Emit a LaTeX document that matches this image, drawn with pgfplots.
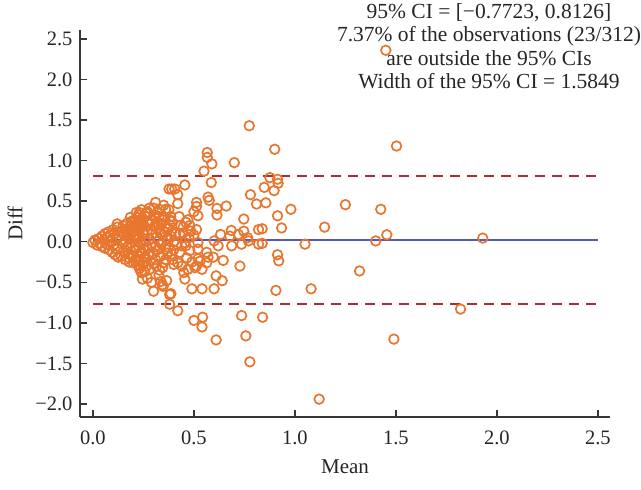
\documentclass[border=0pt]{standalone}
\usepackage{pgfplots}
\pgfplotsset{compat=1.18}
\usepackage{fontspec}
\setmainfont{Liberation Serif}
\definecolor{ptorange}{RGB}{232,118,46}
\definecolor{lineblue}{RGB}{80,90,190}
\definecolor{dashred}{RGB}{168,45,55}
\definecolor{axgray}{RGB}{55,55,55}
\begin{document}
\begin{tikzpicture}
\begin{axis}[
  scale only axis,
  width=530pt, height=387pt,
  xmin=-0.064, xmax=2.56,
  ymin=-2.16, ymax=2.61,
  axis lines=left,
  axis line style={-, axgray, line width=1.5pt},
  tick align=inside,
  major tick length=7pt,
  tick style={axgray, line width=1.4pt},
  xtick={0,0.5,1,1.5,2,2.5},
  xticklabels={0.0,0.5,1.0,1.5,2.0,2.5},
  ytick={-2,-1.5,-1,-0.5,0,0.5,1,1.5,2,2.5},
  yticklabels={−2.0,−1.5,−1.0,−0.5,0.0,0.5,1.0,1.5,2.0,2.5},
  tick label style={font=\fontsize{20.5}{24}\selectfont, text=black!85},
  xticklabel style={yshift=-10pt},
  yticklabel style={xshift=-4pt},
  label style={font=\fontsize{21}{24}\selectfont, text=black!85},
  xlabel={Mean},
  ylabel={Diff},
  xlabel style={yshift=-8pt},
  ylabel style={yshift=6pt},
  clip=false,
]
\addplot[lineblue, line width=1.5pt] coordinates {(0,0.0202) (2.5,0.0202)};
\addplot[dashred, line width=2pt, dash pattern=on 10pt off 7pt] coordinates {(0,0.8126) (2.5,0.8126)};
\addplot[dashred, line width=2pt, dash pattern=on 10pt off 7pt] coordinates {(0,-0.7723) (2.5,-0.7723)};
\addplot[only marks, mark=o, mark size=4.8pt, mark options={ptorange, line width=1.7pt}] table {
x y
0.00 -0.01
0.01 0.02
0.02 -0.04
0.03 0.04
0.035 -0.02
0.045 0.07
0.045 -0.06
0.055 0.02
0.06 0.10
0.06 -0.08
0.07 0.05
0.07 -0.03
0.075 0.12
0.08 -0.10
0.085 0.08
0.09 0.01
0.095 -0.13
0.10 0.15
0.10 -0.05
0.105 0.10
0.11 -0.16
0.115 0.03
0.12 0.18
0.12 -0.09
0.125 -0.19
0.13 0.06
0.135 0.13
0.14 -0.18
0.145 -0.03
0.15 0.20
0.15 -0.12
0.155 0.09
0.16 -0.22
0.16 0.01
0.165 0.16
0.17 -0.07
0.17 0.23
0.175 -0.15
0.18 0.05
0.18 -0.25
0.185 0.19
0.19 -0.02
0.19 0.11
0.195 -0.18
0.20 0.26
0.20 -0.26
0.205 0.03
0.205 -0.10
0.21 0.21
0.21 0.27
0.215 -0.21
0.22 0.21
0.22 0.08
0.225 -0.24
0.225 -0.05
0.23 0.15
0.23 0.33
0.235 -0.30
0.235 0.00
0.24 -0.14
0.24 -0.37
0.245 0.24
0.245 0.29
0.25 -0.08
0.25 0.12
0.255 -0.20
0.225 -0.29
0.23 0.05
0.23 0.36
0.235 -0.02
0.24 0.395
0.24 0.18
0.24 -0.12
0.245 -0.46
0.245 0.27
0.25 -0.28
0.25 0.09
0.255 -0.20
0.26 0.31
0.26 0.00
0.265 0.35
0.265 -0.30
0.27 -0.08
0.27 0.14
0.275 0.22
0.275 -0.16
0.28 0.415
0.28 0.03
0.285 -0.24
0.29 0.26
0.29 -0.04
0.295 0.10
0.30 0.415
0.30 -0.61
0.30 -0.14
0.305 0.19
0.31 0.485
0.31 0.29
0.31 -0.22
0.315 -0.30
0.315 0.06
0.32 -0.10
0.32 0.36
0.325 0.01
0.327 0.31
0.327 -0.41
0.33 -0.35
0.33 0.15
0.335 -0.18
0.337 -0.49
0.34 0.22
0.34 -0.03
0.343 -0.53
0.345 0.08
0.348 0.27
0.348 -0.55
0.35 -0.26
0.355 0.12
0.36 -0.09
0.36 0.40
0.365 -0.48
0.365 0.03
0.37 0.18
0.37 -0.14
0.373 -0.07
0.376 0.395
0.377 0.65
0.38 0.27
0.38 0.21
0.38 -0.65
0.38 -0.77
0.385 0.31
0.385 0.07
0.386 -0.64
0.39 0.65
0.39 -0.15
0.39 0.13
0.395 -0.22
0.40 -0.28
0.405 0.65
0.40 0.00
0.41 0.10
0.414 -0.03
0.42 0.58
0.42 0.47
0.42 -0.26
0.42 -0.85
0.427 0.31
0.43 -0.13
0.435 0.20
0.44 -0.05
0.447 0.18
0.447 0.11
0.45 -0.38
0.455 0.70
0.455 -0.01
0.455 -0.46
0.46 0.24
0.465 -0.20
0.47 0.27
0.47 -0.34
0.475 0.05
0.48 -0.11
0.485 0.13
0.49 -0.58
0.49 -0.25
0.50 0.08
0.50 -0.97
0.505 -0.32
0.50 0.37
0.12 0.22
0.14 0.02
0.16 -0.14
0.17 0.12
0.18 -0.20
0.19 0.25
0.20 0.13
0.21 -0.06
0.22 0.30
0.23 -0.18
0.185 0.30
0.19 0.20
0.195 -0.18
0.20 0.06
0.21 -0.24
0.225 0.16
0.23 -0.33
0.235 0.24
0.25 0.20
0.255 -0.37
0.26 -0.11
0.27 0.37
0.28 -0.34
0.29 0.15
0.30 -0.27
0.305 0.33
0.31 -0.06
0.32 0.22
0.335 0.10
0.345 -0.32
0.355 0.30
0.36 -0.22
0.37 0.05
0.39 0.25
0.40 -0.10
0.43 0.10
0.44 -0.30
0.46 -0.05
0.48 0.20
0.35 0.45
0.33 0.40
0.29 -0.50
0.27 -0.45
0.24 -0.38
0.215 0.36
0.513 0.485
0.513 0.435
0.52 0.32
0.513 0.15
0.52 -0.01
0.52 -0.09
0.52 -0.21
0.513 -0.30
0.53 -0.24
0.54 -0.34
0.54 -0.58
0.543 -0.93
0.54 -1.05
0.55 0.87
0.563 -0.13
0.563 -0.26
0.566 1.10
0.566 1.04
0.57 -0.19
0.57 0.55
0.576 0.51
0.586 0.73
0.589 0.96
0.596 -0.19
0.60 0.01
0.61 -0.42
0.60 -0.58
0.61 -1.21
0.614 0.41
0.614 0.33
0.62 -0.05
0.632 0.09
0.64 -0.48
0.645 -0.23
0.66 0.44
0.678 0.07
0.685 0.14
0.687 -0.05
0.70 0.975
0.72 0.09
0.728 -0.30
0.736 -0.03
0.736 -0.91
0.747 0.28
0.747 0.13
0.757 -1.16
0.766 0.05
0.77 0.01
0.774 1.43
0.777 -1.48
0.78 0.58
0.81 0.465
0.82 0.15
0.82 -0.03
0.838 0.16
0.838 -0.02
0.84 -0.93
0.848 0.67
0.856 0.48
0.876 0.79
0.897 0.63
0.90 1.14
0.906 -0.60
0.914 0.77
0.917 0.72
0.914 0.32
0.914 -0.16
0.92 -0.235
0.934 0.17
0.98 0.40
1.05 -0.03
1.08 -0.58
1.12 -1.94
1.147 0.18
1.25 0.457
1.32 -0.36
1.40 0.01
1.425 0.40
1.455 0.086
1.45 2.36
1.49 -1.20
1.503 1.18
1.82 -0.83
1.93 0.045
};
\end{axis}
\node[anchor=north, align=center, inner sep=0pt, font=\fontsize{21.5}{23.5}\selectfont, text=black!85] at (409pt,414pt)
  {95\% CI = [−0.7723, 0.8126]\\ 7.37\% of the observations (23/312)\\ are outside the 95\% CIs\\ Width of the 95\% CI = 1.5849};
\pgfresetboundingbox
\path[use as bounding box] (-80pt,-73pt) rectangle (561pt,417pt);
\end{tikzpicture}
\end{document}
